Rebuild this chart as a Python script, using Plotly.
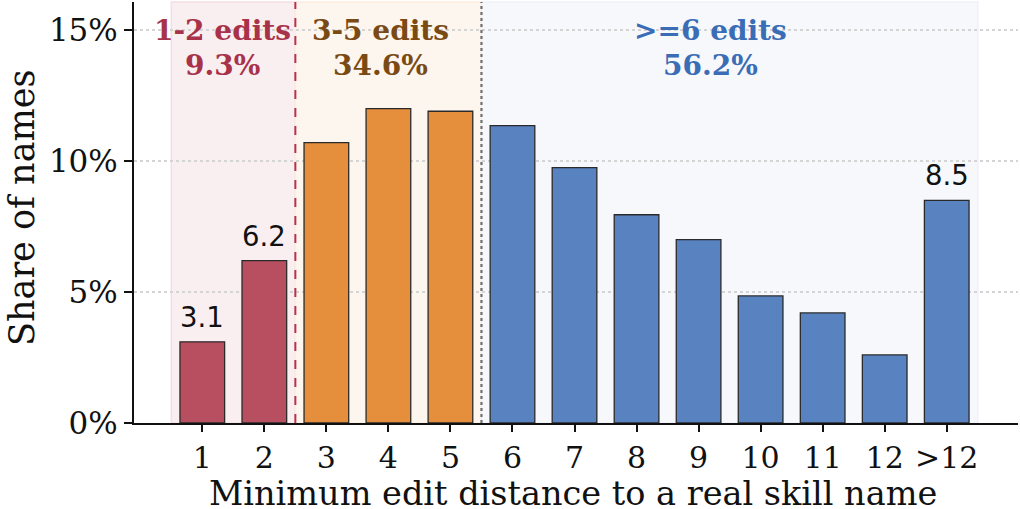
import plotly.graph_objects as go

categories = ["1", "2", "3", "4", "5", "6", "7", "8", "9", "10", "11", "12", ">12"]
shares = [3.1, 6.2, 10.7, 12.0, 11.9, 11.35, 9.75, 7.95, 7.0, 4.85, 4.2, 2.6, 8.5]
groups = ["1-2", "1-2", "3-5", "3-5", "3-5", ">=6", ">=6", ">=6", ">=6", ">=6", ">=6", ">=6", ">=6"]
group_names = ["1-2 edits", "3-5 edits", ">=6 edits"]
group_totals = [9.3, 34.6, 56.2]
labelled = ["1", "2", ">12"]
y_ticks = [0, 5, 10, 15]

bar_colors = {"1-2": "#b84f60", "3-5": "#e58f3c", ">=6": "#5882c0"}
text_colors = ["#a8324a", "#7a4a14", "#3a6db5"]
span_fill = ["#f9eff1", "#fdf6ee", "#f6f8fc"]
span_edge = ["#f2dfe3", "#fbeee0", "#eef1f8"]

xs = list(range(len(categories)))
fig = go.Figure()
fig.add_trace(go.Bar(
    x=xs, y=shares, width=0.72,
    marker=dict(color=[bar_colors[g] for g in groups], line=dict(color="#2a2a2a", width=1.3)),
    showlegend=False,
))

spans = [(-0.5, 1.5), (1.5, 4.5), (4.5, 12.5)]
for (a, b), fc, ec in zip(spans, span_fill, span_edge):
    fig.add_shape(type="rect", xref="x", yref="paper", x0=a, x1=b, y0=0, y1=1,
                  fillcolor=fc, line=dict(color=ec, width=1.5), layer="below")

fig.add_shape(type="line", xref="x", yref="paper", x0=1.5, x1=1.5, y0=0, y1=1,
              line=dict(color="#b8324a", width=2, dash="dash"))
fig.add_shape(type="line", xref="x", yref="paper", x0=4.5, x1=4.5, y0=0, y1=1,
              line=dict(color="#707070", width=2.2, dash="dot"))

label_x = [0.32, 2.88, 8.2]
for name, tot, col, lx in zip(group_names, group_totals, text_colors, label_x):
    fig.add_annotation(x=lx, y=15.0, xref="x", yref="y",
                       text=f"<b>{name}</b>", showarrow=False,
                       font=dict(family="DejaVu Serif", size=28, color=col),
                       yanchor="middle", xanchor="center")
    fig.add_annotation(x=lx, y=13.66, xref="x", yref="y",
                       text=f"<b>{tot:.1f}%</b>", showarrow=False,
                       font=dict(family="DejaVu Serif", size=28, color=col),
                       yanchor="middle", xanchor="center")

for c in labelled:
    i = categories.index(c)
    fig.add_annotation(x=i, y=shares[i], xref="x", yref="y", text=f"{shares[i]:.1f}",
                       showarrow=False, yanchor="bottom", yshift=7,
                       font=dict(family="DejaVu Sans", size=27.5, color="#111111"))

fig.add_annotation(xref="paper", yref="paper", x=(573 - 134) / 884, y=-71 / 421,
                   text="Minimum edit distance to a real skill name", showarrow=False,
                   yanchor="middle", xanchor="center",
                   font=dict(family="DejaVu Serif", size=33.5, color="#111111"))
fig.add_annotation(xref="paper", yref="paper", x=-112 / 884, y=(423 - 208) / 421,
                   text="Share of names", showarrow=False, textangle=-90,
                   yanchor="middle", xanchor="center",
                   font=dict(family="DejaVu Serif", size=35, color="#111111"))

fig.update_layout(
    width=1020, height=509,
    margin=dict(l=134, r=2, t=2, b=86),
    paper_bgcolor="white", plot_bgcolor="white",
    font=dict(family="DejaVu Serif", size=28, color="#111111"),
)
fig.update_xaxes(range=[-1.101, 13.149], tickmode="array", tickvals=xs, ticktext=categories,
                 showline=True, linecolor="#111111", linewidth=2, ticks="outside",
                 ticklen=7, tickwidth=2, tickcolor="#111111", showgrid=False, zeroline=False,
                 tickfont=dict(family="DejaVu Serif", size=30))
fig.update_yaxes(range=[0, 16.07], tickmode="array", tickvals=y_ticks,
                 ticktext=[f"{v}%" for v in y_ticks],
                 showline=True, linecolor="#111111", linewidth=2, ticks="outside",
                 ticklen=8, tickwidth=2, tickcolor="#111111",
                 showgrid=True, gridcolor="#d4d4d4", griddash="dot", gridwidth=1.5,
                 zeroline=False, tickfont=dict(family="DejaVu Serif", size=31))

fig.write_html("out.html")
